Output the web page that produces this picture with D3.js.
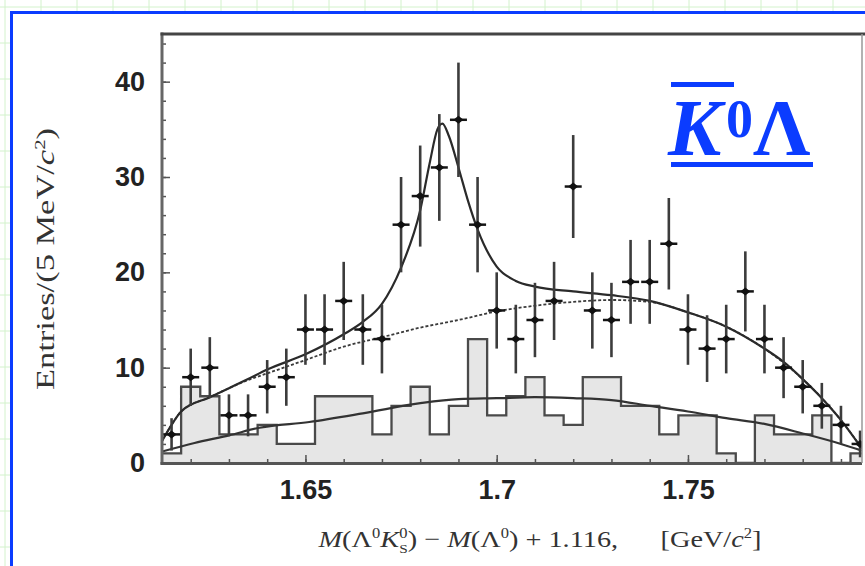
<!DOCTYPE html>
<html>
<head>
<meta charset="utf-8">
<script src="https://cdn.jsdelivr.net/npm/d3@7"></script>
<style>
  body { margin: 0; background: #fff; }
  svg { display: block; }
</style>
</head>
<body>
<div id="chart"></div>
<script>
// bin centres in GeV/c^2 (5 MeV bins)
const binCentres = [
  1.615, 1.62, 1.625, 1.63, 1.635, 1.64, 1.645, 1.65, 1.655, 1.66,
  1.665, 1.67, 1.675, 1.68, 1.685, 1.69, 1.695, 1.7, 1.705, 1.71,
  1.715, 1.72, 1.725, 1.73, 1.735, 1.74, 1.745, 1.75, 1.755, 1.76,
  1.765, 1.77, 1.775, 1.78, 1.785, 1.79, 1.795
]
const entries = [
  3, 9, 10, 5, 5, 8, 9, 14, 14, 17,
  14, 13, 25, 28, 31, 36, 25, 16, 13, 15,
  17, 29, 16, 15, 19, 19, 23, 14, 12, 13,
  18, 13, 10, 8, 6, 4, 2
]
const entryErrors = [
  1.7, 3, 3.2, 2.2, 2.2, 2.8, 3, 3.7, 3.7, 4.1,
  3.7, 3.6, 5, 5.3, 5.6, 6, 5, 4, 3.6, 3.9,
  4.1, 5.4, 4, 3.9, 4.4, 4.4, 4.8, 3.7, 3.5, 3.6,
  4.2, 3.6, 3.2, 2.8, 2.4, 2, 1.4
]
const mcCounts = [
  1, 8, 7, 3, 3, 4, 2, 2, 7, 7,
  7, 3, 6, 8, 3, 6, 13, 5, 7, 9,
  5, 4, 9, 9, 6, 6, 3, 5, 5, 1,
  0, 5, 3, 3, 5, 0, 1
]
// fitted curves: [mass, entries]
const totalFit = [
  [1.6125, 2.3], [1.615, 4.0], [1.6175, 5.4], [1.625, 6.9], [1.635, 8.8],
  [1.64, 9.8], [1.65, 11.4], [1.66, 13.5], [1.665, 14.8], [1.67, 16.7],
  [1.675, 20.5], [1.68, 26.5], [1.6825, 31.5], [1.6845, 35.0], [1.6858, 35.6],
  [1.6875, 34.3], [1.69, 31], [1.6925, 27.5], [1.695, 24.5], [1.7, 20.6],
  [1.705, 19.1], [1.71, 18.5], [1.72, 18.0], [1.73, 17.6], [1.74, 17.0],
  [1.75, 15.8], [1.76, 14.3], [1.77, 12.0], [1.775, 10.6], [1.78, 8.8],
  [1.785, 6.8], [1.79, 4.5], [1.7955, 1.5]
]
const backgroundFit = [
  [1.6125, 2.3], [1.615, 4.0], [1.6175, 5.4], [1.625, 6.9], [1.635, 8.7],
  [1.64, 9.4], [1.65, 10.8], [1.66, 12.2], [1.67, 13.2], [1.68, 14.2],
  [1.69, 15.0], [1.7, 15.9], [1.71, 16.5], [1.72, 16.9], [1.73, 17.1],
  [1.74, 16.9], [1.75, 15.8], [1.76, 14.3], [1.77, 12.0], [1.78, 8.8],
  [1.79, 4.5], [1.7955, 1.5]
]
const mcFit = [
  [1.6125, 1.2], [1.621, 2.1], [1.63, 2.9], [1.638, 3.7], [1.651, 4.3],
  [1.665, 5.2], [1.6805, 6.3], [1.69, 6.7], [1.7, 6.8], [1.71, 6.9],
  [1.72, 6.8], [1.73, 6.6], [1.74, 6.0], [1.75, 5.4], [1.76, 4.7],
  [1.77, 4.1], [1.78, 3.1], [1.79, 2.0], [1.7955, 1.3]
]
const yTicks = [0, 10, 20, 30, 40]
const xTicks = [1.65, 1.7, 1.75]

let width = 865
let height = 566
let plot = { left: 162, right: 862, top: 34, bottom: 463 }
let halfBin = 0.0025
let blue = '#0b3cff'

let svg = d3.select('#chart')
  .append('svg')
  .attr('width', width)
  .attr('height', height)

// green grid paper behind the blue frame
let grid = svg.append('g')
grid.selectAll('.gx')
  .data(d3.range(5, width, 36))
  .enter().append('line')
  .attr('x1', d => d).attr('x2', d => d)
  .attr('y1', 0).attr('y2', height)
  .attr('stroke', '#d3f2cc').attr('stroke-width', 1)
grid.selectAll('.gy')
  .data(d3.range(7, height, 36))
  .enter().append('line')
  .attr('y1', d => d).attr('y2', d => d)
  .attr('x1', 0).attr('x2', width)
  .attr('stroke', '#d3f2cc').attr('stroke-width', 1)

svg.append('rect')
  .attr('x', 11.5).attr('y', 12.5)
  .attr('width', 880).attr('height', 600)
  .attr('fill', '#fff')
  .attr('stroke', blue)
  .attr('stroke-width', 3)

let x = d3.scaleLinear().domain([1.6125, 1.7955]).range([plot.left, plot.right])
let y = d3.scaleLinear().domain([0, 45]).range([plot.bottom, plot.top])

svg.append('clipPath').attr('id', 'plot-clip')
  .append('rect')
  .attr('x', plot.left).attr('y', plot.top)
  .attr('width', plot.right - plot.left)
  .attr('height', plot.bottom - plot.top)

let holder = svg.append('g').attr('clip-path', 'url(#plot-clip)')

// MC histogram
let histPoints = binCentres.map((c, i) => [c - halfBin, mcCounts[i]])
histPoints.push([binCentres[binCentres.length - 1] + halfBin, mcCounts[mcCounts.length - 1]])

let histArea = d3.area()
  .curve(d3.curveStepAfter)
  .x(d => x(d[0]))
  .y0(y(0))
  .y1(d => y(d[1]))

let histLine = d3.line()
  .curve(d3.curveStepAfter)
  .x(d => x(d[0]))
  .y(d => y(d[1]))

holder.append('path')
  .datum(histPoints)
  .attr('d', histArea)
  .attr('fill', '#e6e6e6')

holder.append('path')
  .datum(histPoints)
  .attr('d', d => histLine(d) + `V${y(0)}`)
  .attr('fill', 'none')
  .attr('stroke', '#4a4a4a')
  .attr('stroke-width', 2.3)

// fit curves
let fitLine = d3.line()
  .curve(d3.curveMonotoneX)
  .x(d => x(d[0]))
  .y(d => y(d[1]))

holder.append('path')
  .datum(mcFit)
  .attr('d', fitLine)
  .attr('fill', 'none')
  .attr('stroke', '#333')
  .attr('stroke-width', 2.2)

holder.append('path')
  .datum(backgroundFit)
  .attr('d', fitLine)
  .attr('fill', 'none')
  .attr('stroke', '#3a3a3a')
  .attr('stroke-width', 1.8)
  .attr('stroke-dasharray', '3,2')

holder.append('path')
  .datum(totalFit)
  .attr('d', fitLine)
  .attr('fill', 'none')
  .attr('stroke', '#2a2a2a')
  .attr('stroke-width', 2.2)

// data points with error bars
let points = holder.selectAll('.point')
  .data(binCentres.map((c, i) => ({ m: c, n: entries[i], e: entryErrors[i] })))
  .enter().append('g')
  .attr('class', 'point')

points.append('line')
  .attr('x1', d => x(d.m)).attr('x2', d => x(d.m))
  .attr('y1', d => y(d.n - d.e)).attr('y2', d => y(d.n + d.e))
  .attr('stroke', '#3c3c3c')
  .attr('stroke-width', 2.6)

points.append('line')
  .attr('x1', d => x(d.m) - 8.5).attr('x2', d => x(d.m) + 8.5)
  .attr('y1', d => y(d.n)).attr('y2', d => y(d.n))
  .attr('stroke', '#151515')
  .attr('stroke-width', 2.5)

points.append('path')
  .attr('d', d => {
    let px = x(d.m)
    let py = y(d.n)
    return `M${px - 5},${py}L${px},${py - 4}L${px + 5},${py}L${px},${py + 4}Z`
  })
  .attr('fill', '#111')

// axes
let yMinor = svg.append('g')
  .attr('transform', `translate(${plot.left},0)`)
  .call(d3.axisLeft(y).tickValues(d3.range(0, 45, 2)).tickSize(-4).tickFormat(''))
let yMajor = svg.append('g')
  .attr('transform', `translate(${plot.left},0)`)
  .call(d3.axisLeft(y).tickValues(yTicks).tickSize(-8).tickPadding(17).tickFormat(d3.format('d')))

let xMinor = svg.append('g')
  .attr('transform', `translate(0,${plot.bottom})`)
  .call(d3.axisBottom(x).tickValues(d3.range(162, 180).map(d => d / 100)).tickSize(-4).tickFormat(''))
let xMajor = svg.append('g')
  .attr('transform', `translate(0,${plot.bottom})`)
  .call(d3.axisBottom(x).tickValues(xTicks).tickSize(-8).tickPadding(17).tickFormat(d => d))

;[yMinor, yMajor, xMinor, xMajor].forEach(g => {
  g.select('.domain').remove()
  g.selectAll('.tick line').attr('stroke', '#555').attr('stroke-width', 1.5)
  g.selectAll('.tick text')
    .attr('font-family', '"Liberation Sans", Arial, sans-serif')
    .attr('font-weight', 'bold')
    .attr('font-size', 27)
    .attr('fill', '#222')
})

svg.append('line')
  .attr('x1', plot.left).attr('x2', plot.left)
  .attr('y1', plot.top - 1.5).attr('y2', plot.bottom + 1.5)
  .attr('stroke', '#666').attr('stroke-width', 3)
svg.append('line')
  .attr('x1', plot.left - 1.5).attr('x2', width)
  .attr('y1', plot.top).attr('y2', plot.top)
  .attr('stroke', '#444').attr('stroke-width', 3)
svg.append('line')
  .attr('x1', plot.left - 1.5).attr('x2', plot.right)
  .attr('y1', plot.bottom + 0.5).attr('y2', plot.bottom + 0.5)
  .attr('stroke', '#555').attr('stroke-width', 3)
svg.append('line')
  .attr('x1', plot.right).attr('x2', plot.right)
  .attr('y1', plot.top).attr('y2', plot.bottom)
  .attr('stroke', '#999').attr('stroke-width', 1.5)

// axis titles
let serif = '"Liberation Serif", "Times New Roman", serif'

let yTitle = svg.append('text')
  .attr('transform', 'translate(54,259) rotate(-90)')
  .attr('text-anchor', 'middle')
  .attr('font-family', serif)
  .attr('font-size', 25)
  .attr('fill', '#333')
  .attr('textLength', 262)
  .attr('lengthAdjust', 'spacingAndGlyphs')
yTitle.append('tspan').text('Entries/(5 MeV/')
yTitle.append('tspan').attr('font-style', 'italic').text('c')
yTitle.append('tspan').attr('font-size', 15).attr('dy', -9).text('2')
yTitle.append('tspan').attr('dy', 9).text(')')

let xTitle = svg.append('text')
  .attr('x', 540)
  .attr('y', 547)
  .attr('text-anchor', 'middle')
  .attr('font-family', serif)
  .attr('font-size', 24)
  .attr('fill', '#333')
  .attr('textLength', 443)
  .attr('lengthAdjust', 'spacingAndGlyphs')
xTitle.append('tspan').attr('font-style', 'italic').text('M')
xTitle.append('tspan').text('(Λ')
xTitle.append('tspan').attr('font-size', 14).attr('dy', -9).text('0')
xTitle.append('tspan').attr('font-style', 'italic').attr('dy', 9).text('K')
xTitle.append('tspan').attr('font-size', 14).attr('dy', -9).text('0')
xTitle.append('tspan').attr('font-size', 13).attr('dx', -7).attr('dy', 15).text('S')
xTitle.append('tspan').attr('dy', -6).text(') − ')
xTitle.append('tspan').attr('font-style', 'italic').text('M')
xTitle.append('tspan').text('(Λ')
xTitle.append('tspan').attr('font-size', 14).attr('dy', -9).text('0')
xTitle.append('tspan').attr('dy', 9).text(') + 1.116,\u2003\u2002[GeV/')
xTitle.append('tspan').attr('font-style', 'italic').text('c')
xTitle.append('tspan').attr('font-size', 14).attr('dy', -9).text('2')
xTitle.append('tspan').attr('dy', 9).text(']')

// blue label
let label = svg.append('g').attr('fill', blue)
label.append('text')
  .attr('x', 668).attr('y', 155)
  .attr('font-family', serif)
  .attr('font-weight', 'bold')
  .attr('font-style', 'italic')
  .attr('font-size', 80)
  .text('K')
label.append('text')
  .attr('x', 726).attr('y', 137)
  .attr('font-family', serif)
  .attr('font-weight', 'bold')
  .attr('font-size', 54)
  .text('0')
label.append('text')
  .attr('x', 753).attr('y', 155)
  .attr('font-family', serif)
  .attr('font-weight', 'bold')
  .attr('font-size', 80)
  .text('Λ')
label.append('rect')
  .attr('x', 671).attr('y', 82).attr('width', 63).attr('height', 5)
label.append('rect')
  .attr('x', 671).attr('y', 162).attr('width', 142).attr('height', 5)
</script>
</body>
</html>
